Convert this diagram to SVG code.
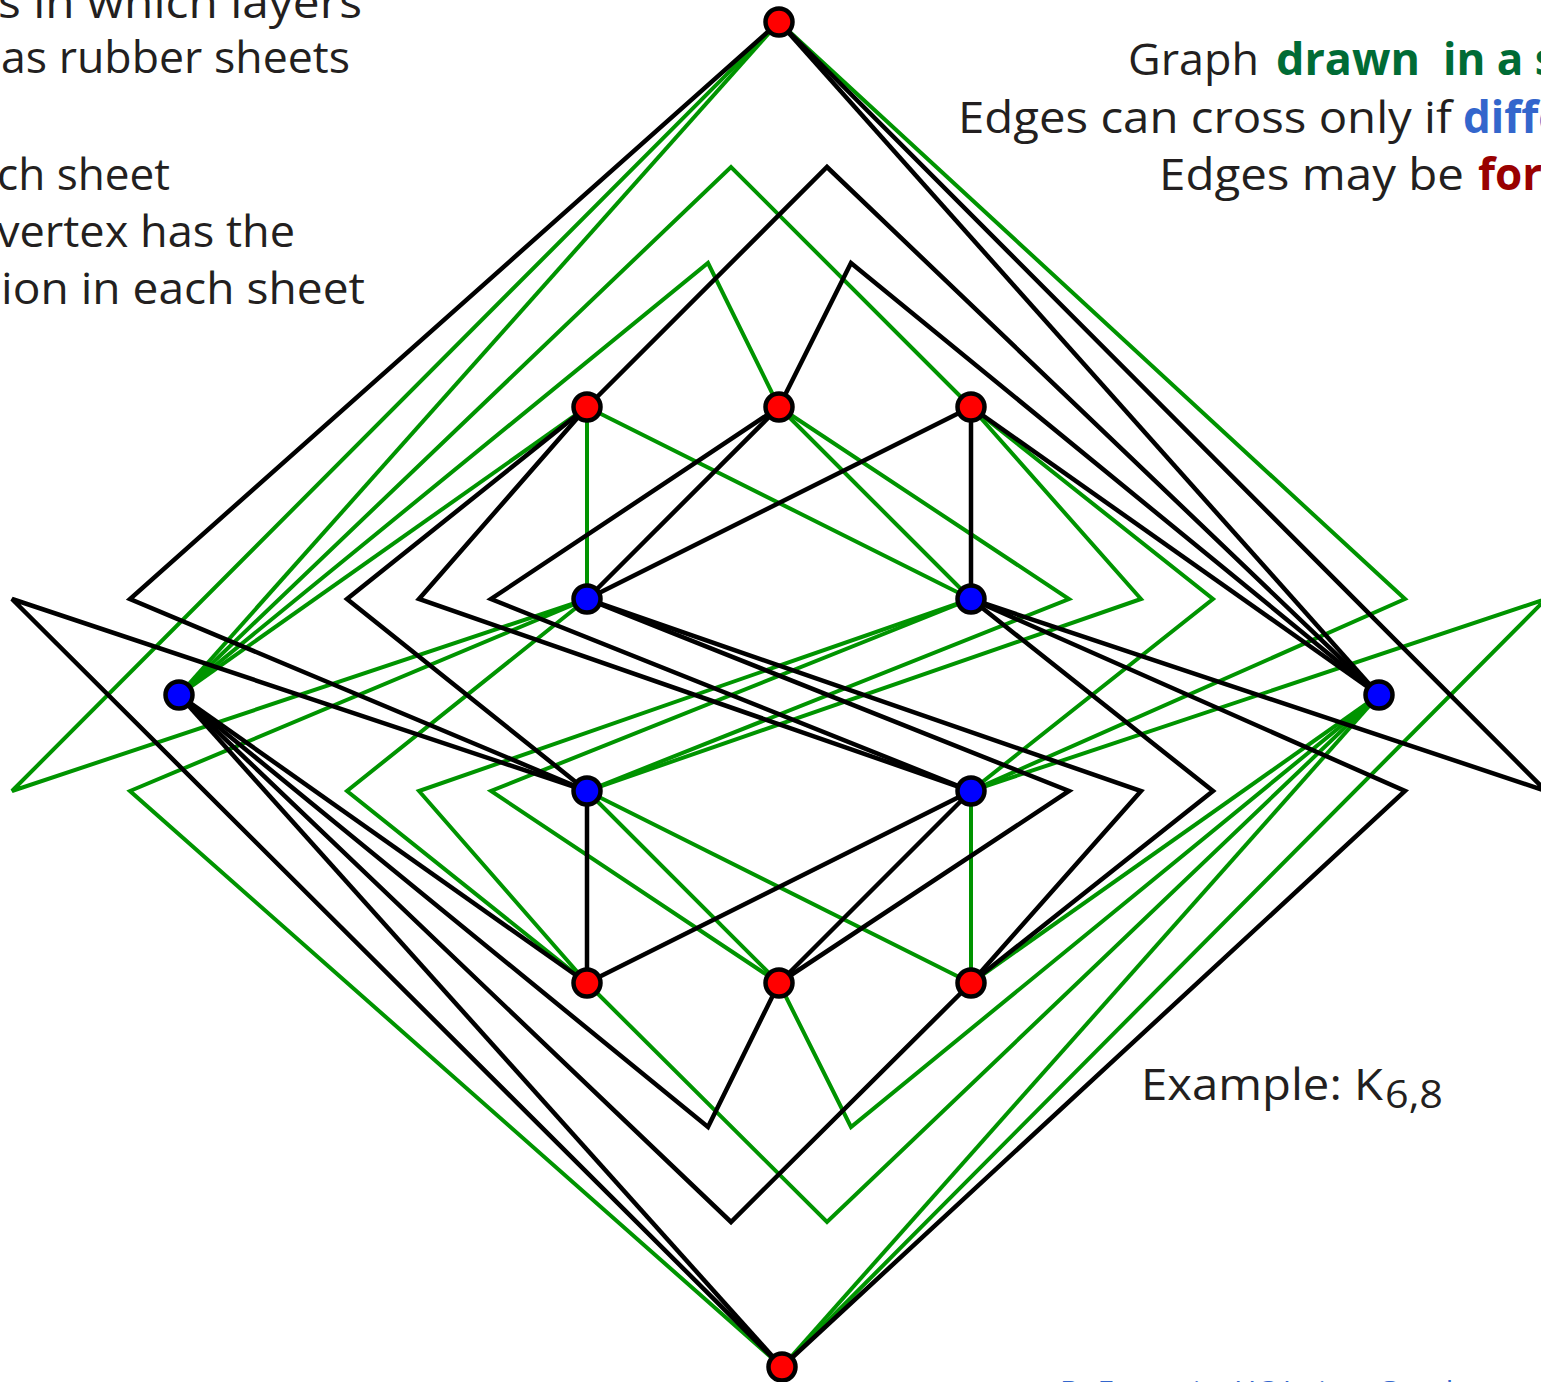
<svg xmlns="http://www.w3.org/2000/svg" width="1541" height="1382" viewBox="0 0 1541 1382">
<style>
.g{fill:none;stroke:#009400;stroke-width:4;stroke-linejoin:miter}
.k{fill:none;stroke:#000;stroke-width:4.5;stroke-linejoin:miter}
.r{fill:#ff0000;stroke:#000;stroke-width:4.5}
.b{fill:#0000ff;stroke:#000;stroke-width:4.5}
.t{font-family:"Open Sans","Noto Sans","Liberation Sans",sans-serif;font-size:44px;fill:#231f20}
.tb{font-family:"Open Sans","Noto Sans","Liberation Sans",sans-serif;font-size:44px;font-weight:bold}
.foot{font-family:"Open Sans","Noto Sans","Liberation Sans",sans-serif;font-size:30px;fill:#3366cc}
</style>
<rect width="1541" height="1382" fill="#fff"/>
<g id="text-left">
<text class="t" x="-2" y="18" textLength="364" lengthAdjust="spacingAndGlyphs">s in which layers</text>
<text class="t" x="1" y="73" textLength="349" lengthAdjust="spacingAndGlyphs">as rubber sheets</text>
<text class="t" x="-3" y="190" textLength="173" lengthAdjust="spacingAndGlyphs">ch sheet</text>
<text class="t" x="-3" y="247" textLength="298" lengthAdjust="spacingAndGlyphs">vertex has the</text>
<text class="t" x="1" y="304" textLength="364" lengthAdjust="spacingAndGlyphs">ion in each sheet</text>
</g>
<g id="text-right">
<text class="t" x="1128" y="75" textLength="131" lengthAdjust="spacingAndGlyphs">Graph</text>
<text class="tb" x="1276" y="75" fill="#006b35" textLength="144" lengthAdjust="spacingAndGlyphs">drawn</text>
<text class="tb" x="1443" y="75" fill="#006b35">in a s</text>
<text class="t" x="958" y="133" textLength="494" lengthAdjust="spacingAndGlyphs">Edges can cross only if</text>
<text class="tb" x="1463" y="133" fill="#3366cc">diffe</text>
<text class="t" x="1159" y="190" textLength="305" lengthAdjust="spacingAndGlyphs">Edges may be</text>
<text class="tb" x="1478" y="190" fill="#990000">for</text>
</g>
<g id="label-example">
<text class="t" x="1141" y="1100" textLength="242" lengthAdjust="spacingAndGlyphs">Example: K</text>
<text class="t" x="1385" y="1108" style="font-size:38px" textLength="58" lengthAdjust="spacingAndGlyphs">6,8</text>
</g>
<g id="footer">
<text class="foot" x="1060" y="1402">D. Eppstein, UC Irvine, Graph</text>
</g>
<g id="connectors">
<g id="sheet-green">
<polyline class="g" points="587,407 587,599"/>
<polyline class="g" points="179,695 779,22"/>
<polyline class="g" points="179,695 587,407"/>
<polyline class="g" points="779,983 587,791"/>
<polyline class="g" points="971,983 587,791"/>
<polyline class="g" points="971,983 971,791"/>
<polyline class="g" points="779,407 971,599"/>
<polyline class="g" points="587,407 971,599"/>
<polyline class="g" points="1379,695 782,1367"/>
<polyline class="g" points="1379,695 971,983"/>
<polyline class="g" points="779,22 12,791 587,599"/>
<polyline class="g" points="782,1367 130,791 587,599"/>
<polyline class="g" points="587,983 347,791 587,599"/>
<polyline class="g" points="587,983 419,791 971,599"/>
<polyline class="g" points="779,983 491,791 971,599"/>
<polyline class="g" points="779,407 1069,599 587,791"/>
<polyline class="g" points="971,407 1141,599 587,791"/>
<polyline class="g" points="971,407 1213,599 971,791"/>
<polyline class="g" points="779,22 1405,599 971,791"/>
<polyline class="g" points="782,1367 1546,599 971,791"/>
<polyline class="g" points="179,695 731,167 971,407"/>
<polyline class="g" points="179,695 708,263 779,407"/>
<polyline class="g" points="1379,695 827,1222 587,983"/>
<polyline class="g" points="1379,695 851,1127 779,983"/>
</g>
<g id="sheet-black">
<polyline class="k" points="779,407 587,599"/>
<polyline class="k" points="971,407 587,599"/>
<polyline class="k" points="587,983 587,791"/>
<polyline class="k" points="779,983 971,791"/>
<polyline class="k" points="587,983 971,791"/>
<polyline class="k" points="971,407 971,599"/>
<polyline class="k" points="1379,695 779,22"/>
<polyline class="k" points="1379,695 971,407"/>
<polyline class="k" points="179,695 782,1367"/>
<polyline class="k" points="179,695 587,983"/>
<polyline class="k" points="782,1367 12,599 587,791"/>
<polyline class="k" points="779,22 130,599 587,791"/>
<polyline class="k" points="587,407 347,599 587,791"/>
<polyline class="k" points="587,407 419,599 971,791"/>
<polyline class="k" points="779,407 491,599 971,791"/>
<polyline class="k" points="779,983 1069,791 587,599"/>
<polyline class="k" points="971,983 1141,791 587,599"/>
<polyline class="k" points="971,983 1213,791 971,599"/>
<polyline class="k" points="782,1367 1405,791 971,599"/>
<polyline class="k" points="779,22 1546,791 971,599"/>
<polyline class="k" points="587,407 827,167 1379,695"/>
<polyline class="k" points="779,407 851,263 1379,695"/>
<polyline class="k" points="971,983 731,1222 179,695"/>
<polyline class="k" points="779,983 708,1127 179,695"/>
</g>
</g>
<g id="nodes">
<g id="r-top"><circle class="r" cx="779" cy="22" r="13.5"/></g>
<g id="r-a"><circle class="r" cx="587" cy="407" r="13.5"/></g>
<g id="r-b"><circle class="r" cx="779" cy="407" r="13.5"/></g>
<g id="r-c"><circle class="r" cx="971" cy="407" r="13.5"/></g>
<g id="r-d"><circle class="r" cx="587" cy="983" r="13.5"/></g>
<g id="r-e"><circle class="r" cx="779" cy="983" r="13.5"/></g>
<g id="r-f"><circle class="r" cx="971" cy="983" r="13.5"/></g>
<g id="r-bottom"><circle class="r" cx="782" cy="1367" r="13.5"/></g>
<g id="b-p"><circle class="b" cx="587" cy="599" r="13.5"/></g>
<g id="b-q"><circle class="b" cx="971" cy="599" r="13.5"/></g>
<g id="b-left"><circle class="b" cx="179" cy="695" r="13.5"/></g>
<g id="b-right"><circle class="b" cx="1379" cy="695" r="13.5"/></g>
<g id="b-s"><circle class="b" cx="587" cy="791" r="13.5"/></g>
<g id="b-u"><circle class="b" cx="971" cy="791" r="13.5"/></g>
</g>
</svg>
